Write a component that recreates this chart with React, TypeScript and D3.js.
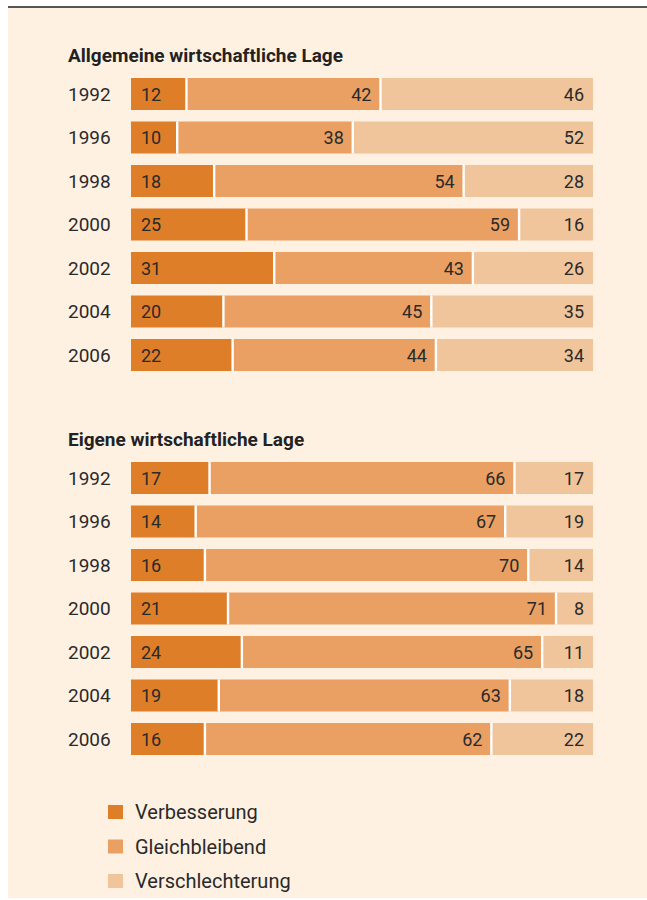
import React, { useRef, useEffect } from 'react'
import * as d3 from 'd3'

const years = ['1992', '1996', '1998', '2000', '2002', '2004', '2006']
const seriesNames = ['Verbesserung', 'Gleichbleibend', 'Verschlechterung']

// Allgemeine wirtschaftliche Lage
const generalBetter = [12, 10, 18, 25, 31, 20, 22]
const generalSame = [42, 38, 54, 59, 43, 45, 44]
const generalWorse = [46, 52, 28, 16, 26, 35, 34]

// Eigene wirtschaftliche Lage
const ownBetter = [17, 14, 16, 21, 24, 19, 16]
const ownSame = [66, 67, 70, 71, 65, 63, 62]
const ownWorse = [17, 19, 14, 8, 11, 18, 22]

const colors = ['#DF7E29', '#E9A062', '#F1C59B']

const App = () => {
    const element = useRef<SVGSVGElement>(null)

    useEffect(() => {
        const width = 647
        const svg = d3.select(element.current)
        svg.selectAll('*').remove()

        // background panel + top rule
        svg.append('rect')
            .attr('x', 8).attr('y', 7)
            .attr('width', width - 8).attr('height', 891)
            .attr('fill', '#FEF1E2')
        svg.append('line')
            .attr('x1', 8).attr('x2', width)
            .attr('y1', 7).attr('y2', 7)
            .style('stroke', '#555')
            .style('stroke-width', '2px')

        const x = d3.scaleLinear().domain([0, 100]).range([131, 593])
        const font = 'Roboto, sans-serif'
        const ink = '#2a2a2a'

        const drawGroup = (title: string, top: number, better: number[], same: number[], worse: number[]) => {
            const y = d3.scaleBand()
                .domain(years)
                .range([top, top + 6 * 43.5 + 32])
                .paddingInner(11.5 / 43.5)
                .paddingOuter(0)

            const g = svg.append('g')

            g.append('text')
                .attr('x', 68)
                .attr('y', top - 16)
                .attr('font-family', font)
                .attr('font-weight', 'bold')
                .attr('font-size', 19)
                .attr('fill', '#222')
                .text(title)

            const rows = years.map((yr, i) => ({ year: yr, values: [better[i], same[i], worse[i]] }))
            const stack = d3.stack<any>()
                .keys([0, 1, 2] as any)
                .value((d: any, k: any) => d.values[k])
            const layers = stack(rows as any)

            layers.forEach((layer, k) => {
                g.selectAll(null)
                    .data(layer)
                    .enter()
                    .append('rect')
                    .attr('x', d => x(d[0]))
                    .attr('y', (d: any) => y(d.data.year)!)
                    .attr('width', d => x(d[1]) - x(d[0]))
                    .attr('height', y.bandwidth())
                    .attr('fill', colors[k])

                g.selectAll(null)
                    .data(layer)
                    .enter()
                    .append('text')
                    .attr('x', d => k === 0 ? x(d[0]) + 10 : x(d[1]) - 9)
                    .attr('y', (d: any) => y(d.data.year)! + y.bandwidth() / 2 + 6.5)
                    .attr('text-anchor', k === 0 ? 'start' : 'end')
                    .attr('font-family', font)
                    .attr('font-size', 18)
                    .attr('fill', ink)
                    .text((d: any) => d.data.values[k])
            })

            // white separators between segments
            layers.slice(0, 2).forEach(layer => {
                g.selectAll(null)
                    .data(layer)
                    .enter()
                    .append('line')
                    .attr('x1', d => x(d[1]))
                    .attr('x2', d => x(d[1]))
                    .attr('y1', (d: any) => y(d.data.year)!)
                    .attr('y2', (d: any) => y(d.data.year)! + y.bandwidth())
                    .style('stroke', '#fff')
                    .style('stroke-width', '2.4px')
            })

            g.selectAll(null)
                .data(years)
                .enter()
                .append('text')
                .attr('x', 68)
                .attr('y', d => y(d)! + y.bandwidth() / 2 + 6.8)
                .attr('font-family', font)
                .attr('font-size', 19)
                .attr('fill', ink)
                .text(d => d)
        }

        drawGroup('Allgemeine wirtschaftliche Lage', 78, generalBetter, generalSame, generalWorse)
        drawGroup('Eigene wirtschaftliche Lage', 462, ownBetter, ownSame, ownWorse)

        // legend
        const legend = svg.append('g')
        const ly = d3.scalePoint().domain(seriesNames).range([819, 888])
        legend.selectAll(null)
            .data(seriesNames)
            .enter()
            .append('rect')
            .attr('x', 108)
            .attr('y', d => ly(d)! - 14)
            .attr('width', 15)
            .attr('height', 14)
            .attr('fill', (d, i) => colors[i])
        legend.selectAll(null)
            .data(seriesNames)
            .enter()
            .append('text')
            .attr('x', 135)
            .attr('y', d => ly(d)!)
            .attr('font-family', font)
            .attr('font-size', 20)
            .attr('fill', ink)
            .text(d => d)
    }, [])

    return (
        <svg ref={element} width={647} height={900}
            style={{ position: 'absolute', left: 0, top: 0, background: '#fff' }} />
    )
}

export default App
